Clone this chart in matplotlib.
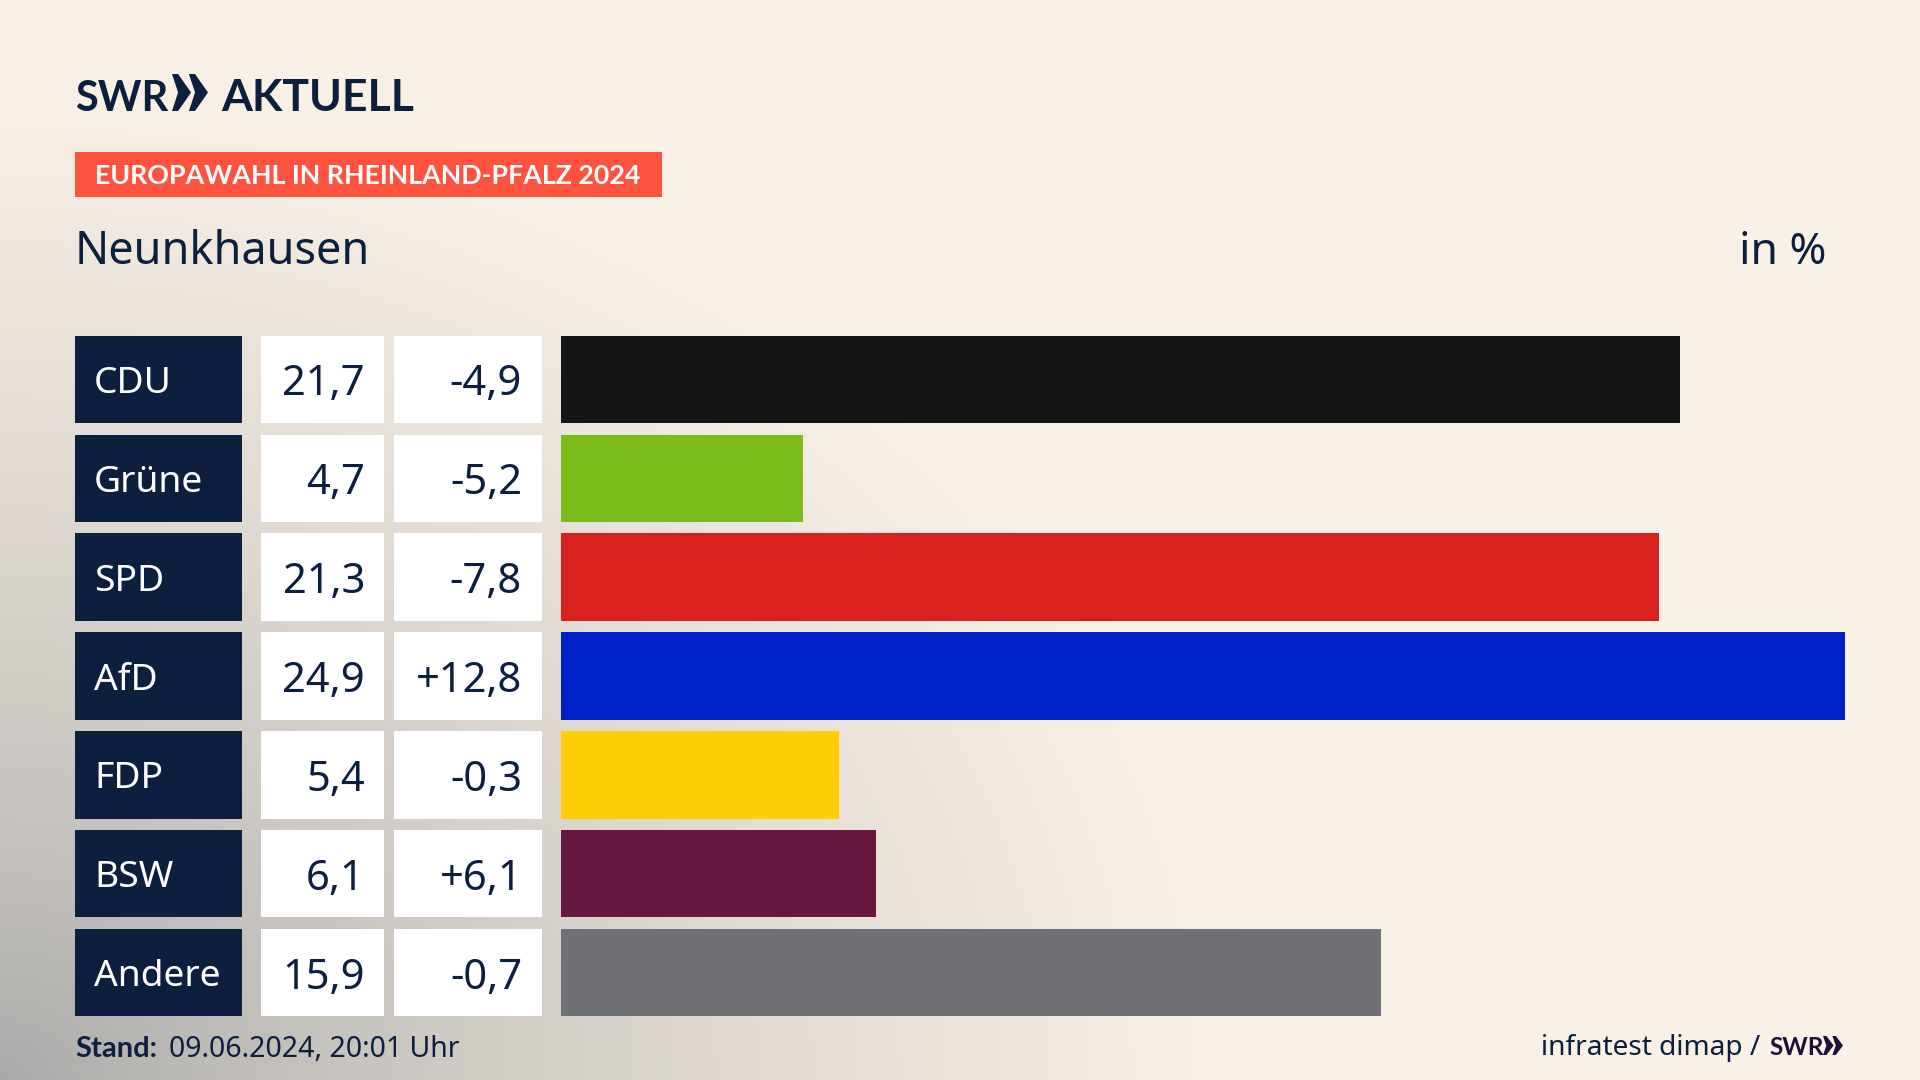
import numpy as np
import matplotlib
matplotlib.use('Agg')
import matplotlib.pyplot as plt
from matplotlib.patches import Polygon

plt.rcParams['font.family'] = ['Noto Sans', 'DejaVu Sans']
bold_font = ['Lato', 'DejaVu Sans']

# Chart data
parties = ['CDU', 'Grüne', 'SPD', 'AfD', 'FDP', 'BSW', 'Andere']
shares = [21.7, 4.7, 21.3, 24.9, 5.4, 6.1, 15.9]
share_labels = ['21,7', '4,7', '21,3', '24,9', '5,4', '6,1', '15,9']
change_labels = ['-4,9', '-5,2', '-7,8', '+12,8', '-0,3', '+6,1', '-0,7']
bar_colors = ['#141414', '#7ABD1A', '#D8201E', '#0020C8', '#FFCC08', '#66183E', '#707174']

navy = '#0C1F3F'
W, H = 1920, 1080
fig = plt.figure(figsize=(W / 100, H / 100), dpi=100)

# Background: cream with a grey glow from the bottom left
bg = fig.add_axes([0, 0, 1, 1])
xx, yy = np.meshgrid(np.linspace(0, W, 480), np.linspace(0, H, 270))
d = np.clip(np.sqrt((xx / 1250) ** 2 + ((H - yy) / 1000) ** 2), 0, 1)
s = d ** 0.75
cream = np.array([250, 241, 230]) / 255
grey = np.array([168, 168, 167]) / 255
img = cream * s[..., None] + grey * (1 - s[..., None])
bg.imshow(img, extent=[0, W, H, 0], aspect='auto', interpolation='bilinear')
bg.set_xlim(0, W)
bg.set_ylim(H, 0)
bg.axis('off')


def chevrons(x0, y0, w, h, color):
    # two ">" shapes side by side
    cw = w * 0.53
    for off in (0, w - cw):
        pts = [(x0 + off, y0), (x0 + off + cw * 0.32, y0), (x0 + off + cw, y0 + h / 2),
               (x0 + off + cw * 0.32, y0 + h), (x0 + off, y0 + h), (x0 + off + cw * 0.32, y0 + h / 2)]
        bg.add_patch(Polygon(pts, closed=True, color=color, lw=0))


# Header
bg.text(75, 111, 'SWR', fontsize=30, fontweight='bold', family=bold_font, color=navy, va='baseline')
chevrons(172, 74, 36, 37, navy)
bg.text(221, 111, 'AKTUELL', fontsize=32, fontweight='bold', family=bold_font, color=navy, va='baseline')
bg.fill_between([75, 662], 152, 197, color='#FF5340', lw=0)
bg.text(95, 184, 'EUROPAWAHL IN RHEINLAND-PFALZ 2024', fontsize=19.3, fontweight='bold',
        family=bold_font, color='white', va='baseline')
bg.text(75, 264, 'Neunkhausen', fontsize=32.4, color=navy, va='baseline')
bg.text(1826, 264, 'in %', fontsize=32, color=navy, va='baseline', ha='right')

# Table and bars share the same rows
top, bottom = 336, 1016
ylim = (6.44, -0.44)
rows = np.arange(len(parties))
bar_h = 0.885

tab = fig.add_axes([0, 1 - bottom / H, 1, (bottom - top) / H])
tab.set_xlim(0, W)
tab.set_ylim(*ylim)
tab.axis('off')
tab.patch.set_alpha(0)
tab.barh(rows, 167, left=75, height=bar_h, color='#0C1F3F')
tab.barh(rows, 123, left=261, height=bar_h, color='white')
tab.barh(rows, 148, left=394, height=bar_h, color='white')
for i in rows:
    tab.text(94, i, parties[i], fontsize=26.8, color='white', va='center_baseline')
    tab.text(365, i, share_labels[i], fontsize=30, color=navy, va='center_baseline', ha='right')
    tab.text(522, i, change_labels[i], fontsize=30, color=navy, va='center_baseline', ha='right')

ax = fig.add_axes([561 / W, 1 - bottom / H, (1845 - 561) / W, (bottom - top) / H])
ax.barh(rows, shares, height=bar_h, color=bar_colors)
ax.set_xlim(0, max(shares))
ax.set_ylim(*ylim)
ax.axis('off')
ax.patch.set_alpha(0)

# Footer
bg.text(75, 1057, 'Stand:', fontsize=21, fontweight='bold', family=bold_font, color=navy, va='baseline')
bg.text(169, 1057, '09.06.2024, 20:01 Uhr', fontsize=20.5, color=navy, va='baseline')
bg.text(1760, 1055, 'infratest dimap /', fontsize=20.2, color=navy, va='baseline', ha='right')
bg.text(1769, 1055, 'SWR', fontsize=17.5, fontweight='bold', family=bold_font, color='#1E0F3C', va='baseline')
chevrons(1823, 1036, 20, 19, '#1E0F3C')

fig.savefig('out.png', dpi=100)
